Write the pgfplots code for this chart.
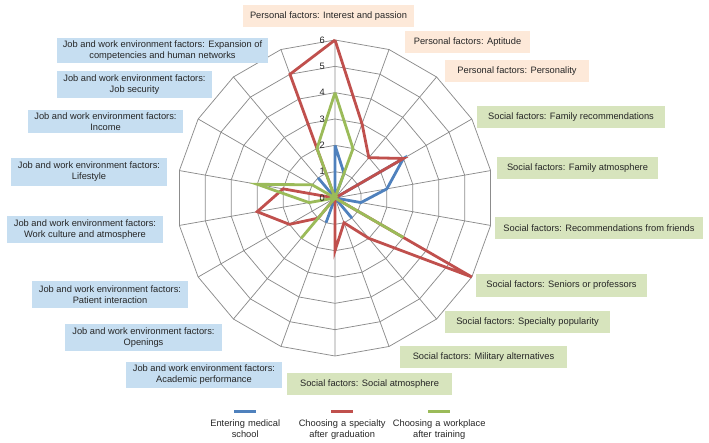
\documentclass[border=0pt]{standalone}
\usepackage{fontspec}
\setmainfont{Liberation Sans}
\usepackage{pgfplots}
\pgfplotsset{compat=1.18}
\usepgfplotslibrary{polar}
\usepackage{pgfplotstable}

\definecolor{cblue}{RGB}{79,129,189}
\definecolor{cred}{RGB}{192,80,77}
\definecolor{cgreen}{RGB}{155,187,89}
\definecolor{gridc}{RGB}{140,140,140}
\definecolor{peach}{RGB}{253,233,217}
\definecolor{lgreen}{RGB}{215,228,189}
\definecolor{lblue}{RGB}{198,222,241}
\definecolor{txt}{RGB}{38,38,38}

% angle (polar, ccw from east), clockwise from top in 20 degree steps
\pgfplotstableread{
ang blue red green
90 2 6 4
70 1 3 2
50 0 2 0
30 3 3 0
10 2 0 0
-10 1 0 0
-30 0 6 3
-50 1 2 0
-70 0 1 0
-90 0 2 0
-110 1 0 0
-130 0 1 2
-150 0 2 0
-170 0 3 1
-190 0 2 3
-210 0 0 1
-230 1 0 0
-250 0 5 2
-270 2 6 4
}\radar

\tikzset{lbl/.style={font=\fontsize{9.3}{11}\selectfont, text=txt, align=center, inner sep=0pt, anchor=center}}

\begin{document}
\begin{tikzpicture}
\path[use as bounding box] (0pt,0pt) rectangle (709pt,443pt);
\begin{polaraxis}[
  at={(335pt,245pt)}, anchor=center,
  scale only axis, width=316pt, height=316pt,
  xmin=0, xmax=360, ymin=0, ymax=6,
  xtick={10,30,...,350}, xticklabels={},
  ytick=\empty,
  xmajorgrids, major grid style={gridc, line width=0.75pt},
  axis line style={draw=none},
  major tick length=0pt,
  clip=false,
  legend cell align=left,
  legend columns=3,
  legend style={
    draw=none, fill=none, inner sep=0pt,
    at={(0.0633,-0.20)}, anchor=north west,
    font=\fontsize{9.3}{11}\selectfont,
    nodes={text width=96pt, align=center, inner sep=0pt, text=txt},
    /tikz/every odd column/.append style={column sep=0pt},
    /tikz/every even column/.append style={column sep=1pt},
  },
  legend image code/.code={\draw[#1, line width=3pt, overlay] (37pt,12pt) -- (59pt,12pt);},
]
\pgfplotsinvokeforeach{1,...,6}{
  \addplot[gridc, line width=0.75pt, forget plot] table[x=ang, y expr=#1] {\radar};
}
\addplot[cblue, line width=2.8pt] table[x=ang, y=blue] {\radar};
\addlegendentry{Entering medical\\school}
\addplot[cred, line width=2.8pt] table[x=ang, y=red] {\radar};
\addlegendentry{Choosing a specialty\\after graduation}
\addplot[cgreen, line width=2.8pt] table[x=ang, y=green] {\radar};
\addlegendentry{Choosing a workplace\\after training}
\pgfplotsinvokeforeach{0,...,6}{
  \node[anchor=east, inner sep=0pt, font=\fontsize{9.3}{11}\selectfont, text=txt, xshift=-10pt] at (axis cs:90,#1) {#1};
}
\end{polaraxis}

% category labels
\node[lbl, fill=peach, minimum width=171pt, minimum height=22pt] at (328.5pt,427pt) {Personal factors: Interest and passion};
\node[lbl, fill=peach, minimum width=125pt, minimum height=22pt] at (467.5pt,401pt) {Personal factors: Aptitude};
\node[lbl, fill=peach, minimum width=144pt, minimum height=22pt] at (517pt,372pt) {Personal factors: Personality};
\node[lbl, fill=lgreen, minimum width=188pt, minimum height=22pt] at (571pt,326pt) {Social factors: Family recommendations};
\node[lbl, fill=lgreen, minimum width=161pt, minimum height=22pt] at (577.5pt,275pt) {Social factors: Family atmosphere};
\node[lbl, fill=lgreen, minimum width=208pt, minimum height=22pt] at (599pt,215pt) {Social factors: Recommendations from friends};
\node[lbl, fill=lgreen, minimum width=171pt, minimum height=23pt] at (561.5pt,157.5pt) {Social factors: Seniors or professors};
\node[lbl, fill=lgreen, minimum width=165pt, minimum height=22pt] at (527.5pt,121pt) {Social factors: Specialty popularity};
\node[lbl, fill=lgreen, minimum width=167pt, minimum height=22pt] at (483.5pt,86pt) {Social factors: Military alternatives};
\node[lbl, fill=lgreen, minimum width=165pt, minimum height=22pt] at (369.5pt,59pt) {Social factors: Social atmosphere};
\node[lbl, fill=lblue, minimum width=156pt, minimum height=26pt] at (204pt,68pt) {Job and work environment factors:\\Academic performance};
\node[lbl, fill=lblue, minimum width=157pt, minimum height=27pt] at (143.5pt,105.5pt) {Job and work environment factors:\\Openings};
\node[lbl, fill=lblue, minimum width=156pt, minimum height=27pt] at (110pt,148.5pt) {Job and work environment factors:\\Patient interaction};
\node[lbl, fill=lblue, minimum width=156pt, minimum height=27pt] at (85pt,213.5pt) {Job and work environment factors:\\Work culture and atmosphere};
\node[lbl, fill=lblue, minimum width=156pt, minimum height=28pt] at (89pt,271pt) {Job and work environment factors:\\Lifestyle};
\node[lbl, fill=lblue, minimum width=155pt, minimum height=23pt] at (105.5pt,321pt) {Job and work environment factors:\\Income};
\node[lbl, fill=lblue, minimum width=155pt, minimum height=27pt] at (134.5pt,358.5pt) {Job and work environment factors:\\Job security};
\node[lbl, fill=lblue, minimum width=211pt, minimum height=25pt] at (162.5pt,392.5pt) {Job and work environment factors: Expansion of\\competencies and human networks};
\end{tikzpicture}
\end{document}
